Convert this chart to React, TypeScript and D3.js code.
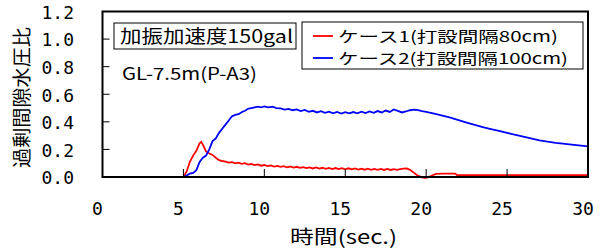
import React from "react";
import * as d3 from "d3";

// time (sec.) and excess pore water pressure ratio
const case1Time = [
  0, 5.0, 5.2, 5.4, 5.6, 5.8, 6.0, 6.1, 6.2, 6.4, 6.6, 6.8, 7.0, 7.2, 7.4,
  7.6, 7.8, 8.0, 8.2, 8.4, 8.6, 8.8, 9.0, 9.2, 9.4, 9.6, 9.8,
  10.0, 10.2, 10.4, 10.6, 10.8, 11.0, 11.2, 11.4, 11.6, 11.8,
  12.0, 12.2, 12.4, 12.6, 12.8, 13.0, 13.2, 13.4, 13.6, 13.8,
  14.0, 14.2, 14.4, 14.6, 14.8, 15.0, 15.2, 15.4, 15.6, 15.8,
  16.0, 16.2, 16.4, 16.6, 16.8, 17.0, 17.2, 17.4, 17.6, 17.8,
  18.0, 18.2, 18.4, 18.6, 18.8, 19.0, 19.2, 19.4, 19.6, 19.8,
  20.0, 20.2, 20.4, 20.6, 21.0, 21.8, 21.9, 30.0,
];
const case1Ratio = [
  0, 0, 0.04, 0.11, 0.155, 0.19, 0.245, 0.255, 0.235, 0.185, 0.17, 0.16, 0.14, 0.122, 0.116,
  0.112, 0.104, 0.108, 0.099, 0.104, 0.095, 0.1, 0.09, 0.095, 0.086, 0.091, 0.082,
  0.087, 0.079, 0.084, 0.076, 0.081, 0.073, 0.078, 0.07, 0.076, 0.068,
  0.074, 0.066, 0.072, 0.064, 0.07, 0.062, 0.069, 0.061, 0.067, 0.059,
  0.066, 0.058, 0.065, 0.057, 0.064, 0.056, 0.063, 0.055, 0.062, 0.054,
  0.061, 0.053, 0.06, 0.052, 0.059, 0.052, 0.059, 0.051, 0.058, 0.051,
  0.057, 0.052, 0.057, 0.06, 0.062, 0.052, 0.035, 0.016, 0.004, -0.004,
  -0.006, 0.002, 0.013, 0.022, 0.025, 0.025, 0.014, 0.014,
];

const case2Time = [
  0, 5.0, 5.2, 5.4, 5.6, 5.8, 6.0, 6.2, 6.4, 6.6, 6.8, 7.0, 7.2, 7.4, 7.6, 7.8,
  8.0, 8.2, 8.4, 8.6, 8.8, 9.0, 9.2, 9.4, 9.6, 9.8,
  10.0, 10.25, 10.5, 10.75, 11.0, 11.25, 11.5, 11.75, 12.0, 12.25, 12.5, 12.75,
  13.0, 13.25, 13.5, 13.75, 14.0, 14.25, 14.5, 14.75, 15.0, 15.25, 15.5, 15.75,
  16.0, 16.25, 16.5, 16.75, 17.0, 17.25, 17.5, 17.75, 18.0, 18.25, 18.5, 18.75,
  19.0, 19.25, 19.5, 19.75, 20.0, 20.5, 21.0, 21.5, 22.0, 22.5, 23.0, 23.5,
  24.0, 24.5, 25.0, 26.0, 27.0, 28.0, 29.0, 30.0,
];
const case2Ratio = [
  0, 0, 0.01, 0.025, 0.03, 0.05, 0.11, 0.14, 0.155, 0.2, 0.26, 0.28, 0.32, 0.35, 0.38, 0.41,
  0.44, 0.45, 0.455, 0.47, 0.48, 0.495, 0.5, 0.505, 0.51, 0.505,
  0.512, 0.505, 0.51, 0.5, 0.497, 0.488, 0.494, 0.484, 0.49, 0.478, 0.486, 0.472,
  0.48, 0.468, 0.477, 0.465, 0.474, 0.462, 0.472, 0.46, 0.47, 0.461, 0.471, 0.462,
  0.473, 0.463, 0.475, 0.465, 0.478, 0.468, 0.482, 0.472, 0.49, 0.48, 0.468, 0.475,
  0.484, 0.488, 0.485, 0.478, 0.472, 0.46, 0.445, 0.43, 0.412, 0.395, 0.378, 0.362,
  0.348, 0.334, 0.32, 0.292, 0.266, 0.248, 0.235, 0.222,
];

const xTicks = [0, 5, 10, 15, 20, 25, 30];
const yTicks = [0, 0.2, 0.4, 0.6, 0.8, 1.0, 1.2];

const seriesNames = ["ケース1(打設間隔80cm)", "ケース2(打設間隔100cm)"];
const seriesColors = ["#ff0000", "#0000ff"];

const W = 605;
const H = 252;
const left = 102.5;
const right = 588;
const top = 11.5;
const bottom = 177;

const numFont = "'DejaVu Sans Mono', 'Noto Sans CJK JP', monospace";
const jpFont = "'Noto Sans CJK JP', 'DejaVu Sans Mono', sans-serif";

export default function App() {
  const x = d3.scaleLinear().domain([0, 30]).range([left, right]);
  const y = d3.scaleLinear().domain([0, 1.2]).range([bottom, top]);

  const line = d3
    .line<[number, number]>()
    .x((d) => x(d[0]))
    .y((d) => y(d[1]));

  const case1 = case1Time.map((t, i) => [t, case1Ratio[i]] as [number, number]);
  const case2 = case2Time.map((t, i) => [t, case2Ratio[i]] as [number, number]);

  return (
    <svg
      width={W}
      height={H}
      style={{ position: "absolute", left: 0, top: 0, background: "#fff" }}
    >
      {/* series */}
      <path d={line(case1) || ""} fill="none" stroke={seriesColors[0]} strokeWidth={1.8} />
      <path d={line(case2) || ""} fill="none" stroke={seriesColors[1]} strokeWidth={1.8} />

      {/* ticks (inside) */}
      {yTicks.slice(1, -1).map((v) => (
        <line key={"yt" + v} x1={left} x2={left + 7} y1={y(v)} y2={y(v)} stroke="#000" strokeWidth={1} />
      ))}
      {xTicks.slice(1, -1).map((v) => (
        <line key={"xt" + v} x1={x(v)} x2={x(v)} y1={bottom} y2={bottom - 8} stroke="#000" strokeWidth={1} />
      ))}

      {/* frame */}
      <rect x={left} y={top} width={right - left} height={bottom - top} fill="none" stroke="#000" strokeWidth={2} />

      {/* tick labels */}
      {yTicks.map((v) => (
        <text
          key={"yl" + v}
          x={74}
          y={y(v) + 1}
          dy="0.35em"
          textAnchor="end"
          fontFamily={numFont}
          fontSize={18}
          fill="#000"
        >
          {v.toFixed(1)}
        </text>
      ))}
      {xTicks.map((v) => (
        <text
          key={"xl" + v}
          x={x(v) - 5}
          y={215}
          textAnchor="middle"
          fontFamily={numFont}
          fontSize={18}
          fill="#000"
        >
          {v}
        </text>
      ))}

      {/* axis titles */}
      <text
        x={343.5}
        y={244}
        textAnchor="middle"
        fontFamily={jpFont}
        fontSize={19}
        textLength={107}
        lengthAdjust="spacingAndGlyphs"
        fill="#000"
      >
        時間(sec.)
      </text>
      <text
        transform="translate(29,97.5) rotate(-90)"
        textAnchor="middle"
        fontFamily={jpFont}
        fontSize={19}
        textLength={141}
        lengthAdjust="spacingAndGlyphs"
        fill="#000"
      >
        過剰間隙水圧比
      </text>

      {/* annotation */}
      <rect x={114} y={23} width={182} height={26} fill="#fff" stroke="#000" strokeWidth={1} />
      <text
        x={120}
        y={42.5}
        fontFamily={jpFont}
        fontSize={18}
        textLength={173}
        lengthAdjust="spacingAndGlyphs"
        fill="#000"
      >
        加振加速度150gal
      </text>
      <text
        x={122}
        y={80}
        fontFamily={jpFont}
        fontSize={17}
        textLength={135}
        lengthAdjust="spacingAndGlyphs"
        fill="#000"
      >
        GL-7.5m(P-A3)
      </text>

      {/* legend */}
      <rect x={302} y={22} width={281} height={47} fill="#fff" stroke="#000" strokeWidth={1} />
      {seriesNames.map((name, i) => (
        <g key={name}>
          <line
            x1={313}
            x2={333}
            y1={36 + i * 22}
            y2={36 + i * 22}
            stroke={seriesColors[i]}
            strokeWidth={1.8}
          />
          <text
            x={338}
            y={41.5 + i * 22}
            fontFamily={jpFont}
            fontSize={15}
            textLength={i === 0 ? 220 : 230}
            lengthAdjust="spacingAndGlyphs"
            fill="#000"
          >
            {name}
          </text>
        </g>
      ))}
    </svg>
  );
}
